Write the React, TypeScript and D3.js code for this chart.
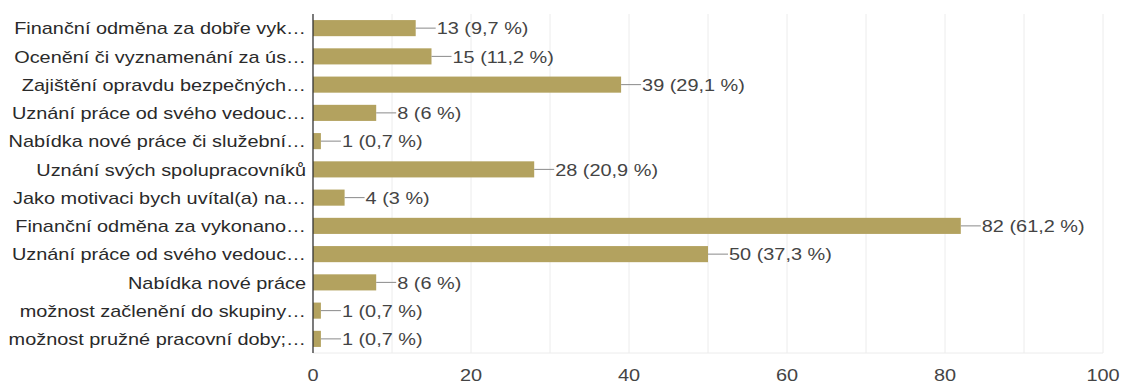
import React from "react";
import * as d3 from "d3";

const categories = [
  "Finanční odměna za dobře vyk…",
  "Ocenění či vyznamenání za ús…",
  "Zajištění opravdu bezpečných…",
  "Uznání práce od svého vedouc…",
  "Nabídka nové práce či služební…",
  "Uznání svých spolupracovníků",
  "Jako motivaci bych uvítal(a) na…",
  "Finanční odměna za vykonano…",
  "Uznání práce od svého vedouc…",
  "Nabídka nové práce",
  "možnost začlenění do skupiny…",
  "možnost pružné pracovní doby;…",
];
const counts = [13, 15, 39, 8, 1, 28, 4, 82, 50, 8, 1, 1];
const percents = ["9,7", "11,2", "29,1", "6", "0,7", "20,9", "3", "61,2", "37,3", "6", "0,7", "0,7"];
const xTicks = [0, 20, 40, 60, 80, 100];
const gridTicks = [10, 20, 30, 40, 50, 60, 70, 80, 90, 100];

const W = 1124;
const H = 383;
const left = 313;
const right = 1103;
const top = 14;
const bottom = 353;
const font = "'Liberation Sans', Arial, sans-serif";
const FS = 17;
const SX = 1.17;

export default function App() {
  const x = d3.scaleLinear().domain([0, 100]).range([left, right]);
  const y = d3
    .scaleBand<number>()
    .domain(categories.map((_, i) => i))
    .range([top, bottom])
    .paddingInner(0.43)
    .paddingOuter(0.215);
  return (
    <svg
      width={W}
      height={H}
      style={{ position: "absolute", left: 0, top: 0, background: "#fff" }}
    >
      <rect x={0} y={0} width={W} height={H} fill="#fff" />
      {gridTicks.map((t) => (
        <line
          key={"g" + t}
          x1={x(t)}
          x2={x(t)}
          y1={top}
          y2={bottom}
          stroke="#ececec"
          strokeWidth={1}
        />
      ))}
      <line x1={left} x2={right} y1={bottom} y2={bottom} stroke="#ececec" strokeWidth={1} />
      {counts.map((v, i) => {
        const by = y(i)!;
        const bh = y.bandwidth();
        const cy = by + bh / 2;
        const xe = x(v);
        return (
          <g key={"b" + i}>
            <rect x={x(0)} y={by} width={xe - x(0)} height={bh} fill="#b3a25f" />
            <line x1={xe} x2={xe + 20} y1={cy} y2={cy} stroke="#8a8a8a" strokeWidth={1} />
            <text
              transform={`translate(${xe + 21},${cy}) scale(${SX},1)`}
              dy="0.36em"
              fontFamily={font}
              fontSize={FS}
              fill="#444"
            >
              {`${v} (${percents[i]} %)`}
            </text>
            <text
              transform={`translate(306,${cy}) scale(${SX},1)`}
              dy="0.36em"
              textAnchor="end"
              fontFamily={font}
              fontSize={FS}
              fill="#2a2a2a"
            >
              {categories[i]}
            </text>
          </g>
        );
      })}
      <line x1={left} x2={left} y1={top} y2={bottom} stroke="#333" strokeWidth={1.3} />
      {xTicks.map((t) => (
        <text
          key={"t" + t}
          transform={`translate(${x(t)},375) scale(${SX},1)`}
          dy="0.36em"
          textAnchor="middle"
          fontFamily={font}
          fontSize={FS}
          fill="#444"
        >
          {t}
        </text>
      ))}
    </svg>
  );
}
